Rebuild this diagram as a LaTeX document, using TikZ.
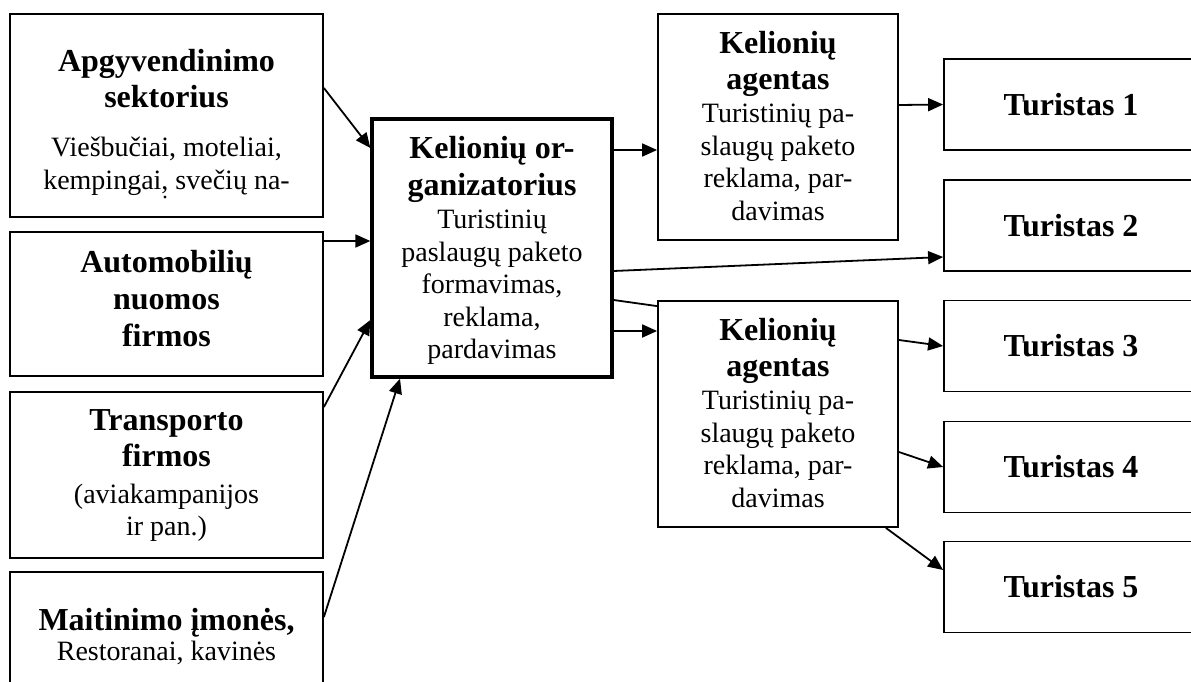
\documentclass[tikz,border=0pt]{standalone}
\usepackage{fontspec}
\setmainfont{Liberation Serif}
\usetikzlibrary{arrows.meta,positioning}
\newcommand\boxhead{\fontsize{32}{36}\selectfont\bfseries}
\newcommand\boxbody{\fontsize{28}{32.5}\selectfont\mdseries}

\begin{document}
\begin{tikzpicture}[x=1pt,y=-1pt,
    box/.style={draw,line width=1.8pt,inner sep=0pt},
    txt/.style={align=center,inner sep=0pt,font=\boxbody},
    arr/.style={line width=1.8pt,-{Triangle[length=15pt,width=13pt]}}]
  \clip (0,0) rectangle (1191,682);
  % suppliers
  \node[box,minimum width=313pt,minimum height=203pt] (accom) at (166.5,115.5) {};
  \node[box,minimum width=313pt,minimum height=144pt] (carrent) at (166.5,304) {};
  \node[box,minimum width=313pt,minimum height=166pt] (transp) at (166.5,475) {};
  \node[box,minimum width=313pt,minimum height=140pt] (food) at (166.5,642) {};
  \node[txt,below=36pt of accom.north] (accom-t) {\boxhead Apgyvendinimo\\[3.5pt] \boxhead sektorius\\[16.5pt] \boxbody Viešbučiai, moteliai,\\ \boxbody kempingai, svečių na-};
  \fill (165,197) circle (1.6pt);
  \node[txt,below=19pt of carrent.north] (carrent-t) {\boxhead Automobilių\\[4.5pt] \boxhead nuomos\\[4.5pt] \boxhead firmos};
  \node[txt,below=18pt of transp.north] (transp-t) {\boxhead Transporto\\[3.5pt] \boxhead firmos\\[4.5pt] \boxbody (aviakampanijos\\ \boxbody ir pan.)};
  \node[txt,below=37pt of food.north] (food-t) {\boxhead Maitinimo įmonės,\\[-2.5pt] \boxbody Restoranai, kavinės};
  % organizer and agents
  \node[box,line width=3.3pt,minimum width=240pt,minimum height=258pt] (org) at (492,248) {};
  \node[txt,below=19pt of org.north] (org-t) {\boxhead Kelionių or-\\[4.5pt] \boxhead ganizatorius\\[0.5pt] \boxbody Turistinių\\ \boxbody paslaugų paketo\\ \boxbody formavimas,\\ \boxbody reklama,\\ \boxbody pardavimas};
  \node[box,minimum width=240pt,minimum height=226pt] (agentA) at (778,127) {};
  \node[box,minimum width=240pt,minimum height=226pt] (agentB) at (778,414) {};
  \node[txt,below=18pt of agentA.north] (agentA-t) {\boxhead Kelionių\\[3.5pt] \boxhead agentas\\[0.5pt] \boxbody Turistinių pa-\\ \boxbody slaugų paketo\\ \boxbody reklama, par-\\ \boxbody davimas};
  \node[txt,below=18pt of agentB.north] (agentB-t) {\boxhead Kelionių\\[3.5pt] \boxhead agentas\\[0.5pt] \boxbody Turistinių pa-\\ \boxbody slaugų paketo\\ \boxbody reklama, par-\\ \boxbody davimas};
  % tourists
  \foreach \i/\y in {1/104.5,2/225.5,3/346,4/467,5/587}
    \node[box,minimum width=254pt,minimum height=91pt,font=\boxhead] (tour\i) at (1071,\y) {Turistas \i};
  % flows
  \draw[arr] ([yshift=27.5pt]accom.east) -- ([yshift=100pt]org.west);
  \draw[arr] ([yshift=63pt]carrent.east) -- ([yshift=7pt]org.west);
  \draw[arr] ([yshift=68pt]transp.east) -- ([yshift=-72pt]org.west);
  \draw[arr] ([yshift=25pt]food.east) -- ([xshift=-92pt]org.south);
  \draw[arr] ([yshift=98pt]org.east) -- ([yshift=-23pt]agentA.west);
  \draw[arr] ([yshift=-23pt]org.east) -- ([yshift=-31.5pt]tour2.west);
  \draw[line width=1.8pt] ([yshift=-52pt]org.east) -- ([yshift=-6pt]agentB.north west);
  \draw[arr] ([yshift=-83pt]org.east) -- ([yshift=83pt]agentB.west);
  \draw[arr] ([yshift=22pt]agentA.east) -- (tour1.west);
  \draw[arr] ([yshift=74pt]agentB.east) -- (tour3.west);
  \draw[arr] ([yshift=-38pt]agentB.east) -- (tour4.west);
  \draw[arr] ([xshift=-13pt]agentB.south east) -- ([yshift=17pt]tour5.west);
\end{tikzpicture}
\end{document}
